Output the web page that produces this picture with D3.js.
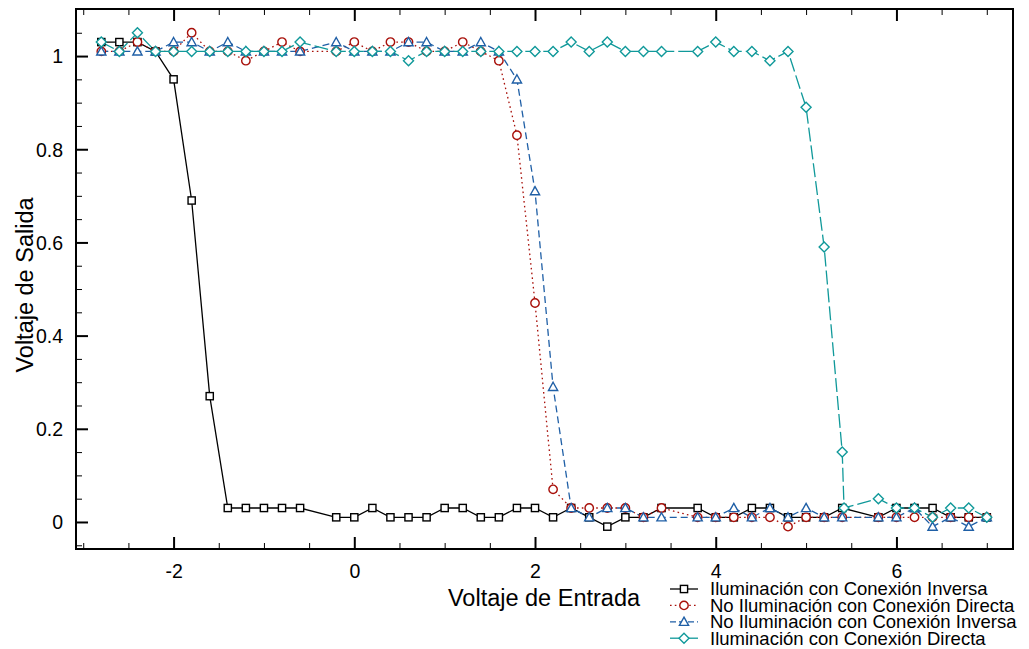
<!DOCTYPE html>
<html><head><meta charset="utf-8">
<script src="https://cdn.jsdelivr.net/npm/d3@7"></script>
<style>body{margin:0;background:#fff}svg{display:block;font-family:"Liberation Sans",Arial,Helvetica,sans-serif}</style>
</head><body>
<svg id="c" width="1029" height="649"></svg>
<script>
// ---- data ----
const xEntrada = [-2.8,-2.6,-2.4,-2.2,-2.0,-1.8,-1.6,-1.4,-1.2,-1.0,-0.8,-0.6,
  -0.2,0,0.2,0.4,0.6,0.8,1.0,1.2,1.4,1.6,1.8,2.0,2.2,2.4,2.6,2.8,3.0,3.2,3.4,
  3.8,4.0,4.2,4.4,4.6,4.8,5.0,5.2,5.4,
  5.8,6.0,6.2,6.4,6.6,6.8,7.0];
const xEntradaIlumDirecta = [-2.8,-2.6,-2.4,-2.2,-2.0,-1.8,-1.6,-1.4,-1.2,-1.0,-0.8,-0.6,
  -0.2,0,0.2,0.4,0.6,0.8,1.0,1.2,1.4,1.6,1.8,2.0,2.2,2.4,2.6,2.8,3.0,3.2,3.4,
  3.8,4.0,4.2,4.4,4.6,4.8,5.0,5.2,5.4,5.42,
  5.8,6.0,6.2,6.4,6.6,6.8,7.0];
const ilumInversa = [1.03,1.03,1.03,1.01,0.95,0.69,0.27,0.03,0.03,0.03,0.03,0.03,
  0.01,0.01,0.03,0.01,0.01,0.01,0.03,0.03,0.01,0.01,0.03,0.03,0.01,0.03,0.01,-0.01,0.01,0.01,0.03,
  0.03,0.01,0.01,0.03,0.03,0.01,0.01,0.01,0.03,
  0.01,0.03,0.03,0.03,0.01,0.01,0.01];
const noIlumDirecta = [1.01,1.01,1.03,1.01,1.01,1.05,1.01,1.01,0.99,1.01,1.03,1.01,
  1.01,1.03,1.01,1.03,1.03,1.01,1.01,1.03,1.01,0.99,0.83,0.47,0.07,0.03,0.03,0.03,0.03,0.01,0.03,
  0.01,0.01,0.01,0.01,0.01,-0.01,0.01,0.01,0.01,
  0.01,0.01,0.01,0.01,0.01,0.01,0.01];
const noIlumInversa = [1.01,1.01,1.01,1.01,1.03,1.03,1.01,1.03,1.01,1.01,1.01,1.01,
  1.03,1.01,1.01,1.01,1.03,1.03,1.01,1.01,1.03,1.01,0.95,0.71,0.29,0.03,0.01,0.03,0.03,0.01,0.01,
  0.01,0.01,0.03,0.01,0.03,0.01,0.03,0.01,0.01,
  0.01,0.01,0.03,-0.01,0.01,-0.01,0.01];
const ilumDirecta = [1.03,1.01,1.05,1.01,1.01,1.01,1.01,1.01,1.01,1.01,1.01,1.03,
  1.01,1.01,1.01,1.01,0.99,1.01,1.01,1.01,1.01,1.01,1.01,1.01,1.01,1.03,1.01,1.03,1.01,1.01,1.01,
  1.01,1.03,1.01,1.01,0.99,1.01,0.89,0.59,0.15,0.03,
  0.05,0.03,0.03,0.01,0.03,0.03,0.01];
const seriesNames = ["Iluminación con Conexión Inversa","No Iluminación con Conexión Directa",
  "No Iluminación con Conexión Inversa","Iluminación con Conexión Directa"];
const xTicks = [-2,0,2,4,6];
const xTickLabels = ["-2","0","2","4","6"];
const yTicks = [0,0.2,0.4,0.6,0.8,1];
const yTickLabels = ["0","0.2","0.4","0.6","0.8","1"];
const xTitle = "Voltaje de Entrada";
const yTitle = "Voltaje de Salida";

// ---- layout ----
const L=76,R=1013,T=9,B=549;
const x = d3.scaleLinear().domain([-3.08,7.29]).range([L,R]);
const y = d3.scaleLinear().domain([-0.058,1.101]).range([B,T]);
const svg = d3.select("#c");

const series = [
  {name:seriesNames[0], xs:xEntrada, ys:ilumInversa, color:"#000000", dash:null, legDash:null, sym:"square"},
  {name:seriesNames[1], xs:xEntrada, ys:noIlumDirecta, color:"#a8100a", dash:"1.6,3.2", legDash:"1.6,3.2", sym:"circle"},
  {name:seriesNames[2], xs:xEntrada, ys:noIlumInversa, color:"#1f5fa6", dash:"7,4", legDash:"6,3", sym:"triangle"},
  {name:seriesNames[3], xs:xEntradaIlumDirecta, ys:ilumDirecta, color:"#10999a", dash:"14,4", legDash:null, sym:"diamond"}
];

function drawSym(g, sym, color){
  if(sym==="square") g.append("rect").attr("x",-3.6).attr("y",-3.6).attr("width",7.2).attr("height",7.2);
  else if(sym==="circle") g.append("circle").attr("r",4.2);
  else if(sym==="triangle") g.append("path").attr("d","M0,-4.6L4.6,3.6L-4.6,3.6Z");
  else g.append("path").attr("d","M0,-5L5,0L0,5L-5,0Z");
  g.selectAll("*").attr("fill","#fff").attr("stroke",color).attr("stroke-width",1.4);
}

svg.append("defs").append("clipPath").attr("id","cp").append("rect")
  .attr("x",L).attr("y",T).attr("width",R-L).attr("height",B-T);
const plot = svg.append("g").attr("clip-path","url(#cp)");

series.forEach(s=>{
  const pts = s.xs.map((v,i)=>[v,s.ys[i]]);
  const line = d3.line().x(d=>x(d[0])).y(d=>y(d[1]));
  plot.append("path").attr("d",line(pts)).attr("fill","none").attr("stroke",s.color)
    .attr("stroke-width",1.3).attr("stroke-dasharray",s.dash);
});
series.forEach(s=>{
  s.xs.forEach((v,i)=>{
    const g = plot.append("g").attr("transform",`translate(${x(v)},${y(s.ys[i])})`);
    drawSym(g,s.sym,s.color);
  });
});

// ---- axes ----
const xMinor = d3.range(-3,7.3,0.5).filter(v=>xTicks.indexOf(v)<0);
const yMinor = d3.range(-0.05,1.1,0.05).map(v=>Math.round(v*100)/100).filter(v=>yTicks.indexOf(v)<0);

const gB = svg.append("g").attr("transform",`translate(0,${B})`)
  .call(d3.axisBottom(x).tickValues(xTicks).tickSize(-12).tickPadding(15).tickFormat((d,i)=>xTickLabels[i]));
const gBm = svg.append("g").attr("transform",`translate(0,${B})`).call(d3.axisBottom(x).tickValues(xMinor).tickSize(-6).tickFormat(""));
const gT = svg.append("g").attr("transform",`translate(0,${T})`).call(d3.axisTop(x).tickValues(xTicks).tickSize(-12).tickFormat(""));
const gTm = svg.append("g").attr("transform",`translate(0,${T})`).call(d3.axisTop(x).tickValues(xMinor).tickSize(-6).tickFormat(""));
const gL = svg.append("g").attr("transform",`translate(${L},0)`)
  .call(d3.axisLeft(y).tickValues(yTicks).tickSize(-12).tickPadding(13).tickFormat((d,i)=>yTickLabels[i]));
const gLm = svg.append("g").attr("transform",`translate(${L},0)`).call(d3.axisLeft(y).tickValues(yMinor).tickSize(-6).tickFormat(""));
[gB,gT,gL].forEach(g=>{g.select(".domain").remove();g.selectAll(".tick line").attr("stroke","#000").attr("stroke-width",2);});
[gBm,gTm,gLm].forEach(g=>{g.select(".domain").remove();g.selectAll(".tick line").attr("stroke","#000").attr("stroke-width",1);});
[gB,gL].forEach(g=>g.selectAll(".tick text").attr("font-size",19.5).attr("fill","#000").attr("font-family","Liberation Sans, Arial, sans-serif"));
gL.selectAll(".tick text").attr("dy","0.35em");

svg.append("rect").attr("x",L).attr("y",T).attr("width",R-L).attr("height",B-T)
  .attr("fill","none").attr("stroke","#000").attr("stroke-width",2);

svg.append("text").attr("x",544).attr("y",606).attr("text-anchor","middle").attr("font-size",23.5).text(xTitle);
svg.append("text").attr("transform","translate(33,285) rotate(-90)").attr("text-anchor","middle").attr("font-size",23.5).text(yTitle);

// ---- legend ----
const leg = svg.append("g");
series.forEach((s,i)=>{
  const cy = 589 + i*16.4;
  leg.append("line").attr("x1",670).attr("x2",698).attr("y1",cy).attr("y2",cy)
    .attr("stroke",s.color).attr("stroke-width",1.3).attr("stroke-dasharray",s.legDash);
  const g = leg.append("g").attr("transform",`translate(684,${cy})`);
  drawSym(g,s.sym,s.color);
  leg.append("text").attr("x",710).attr("y",cy+6.3).attr("font-size",18.5).text(s.name);
});
</script>
</body></html>
